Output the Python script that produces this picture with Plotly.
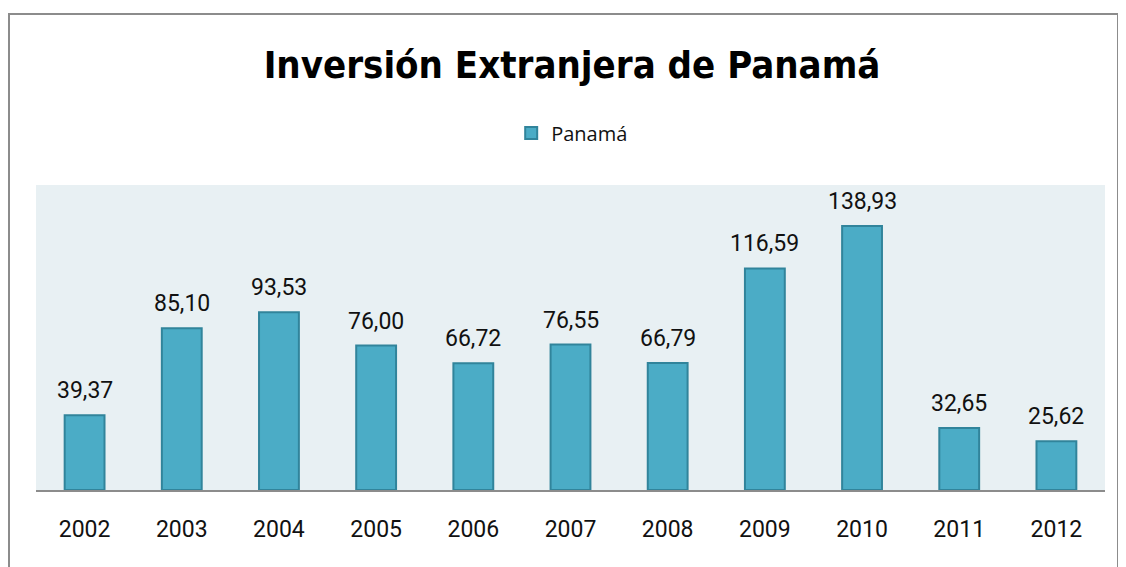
import plotly.graph_objects as go

years = ["2002", "2003", "2004", "2005", "2006", "2007", "2008", "2009", "2010", "2011", "2012"]
inversion = [39.37, 85.10, 93.53, 76.00, 66.72, 76.55, 66.79, 116.59, 138.93, 32.65, 25.62]

# page is shifted 8px by the body margin, so work in figure coords
W, H = 1126, 567
L, R, T, B = 28, 29, 177, 85
pw, ph = W - L - R, H - T - B

fig = go.Figure(go.Bar(
    x=years,
    y=inversion,
    name="Panamá",
    marker=dict(color="#4BACC6", line=dict(color="#31849B", width=2)),
    width=0.41,
    showlegend=True,
))

# value labels (category index as x, numeric-looking names get misread)
for i, v in enumerate(inversion):
    fig.add_annotation(x=i, y=v, text=f"{v:.2f}".replace(".", ","), showarrow=False,
                       yanchor="bottom", yshift=9,
                       font=dict(family="Roboto", size=23, color="#111111"))

# gray frame around the whole chart
fig.add_shape(type="rect", xref="paper", yref="paper",
              x0=(1 - L) / pw, x1=(1110 - L) / pw,
              y0=(H - B - 600) / ph, y1=(H - B - 6) / ph,
              line=dict(color="#8c8c8c", width=2), layer="below")

fig.update_layout(
    width=W, height=H,
    margin=dict(l=L, r=R, t=T, b=B, autoexpand=False),
    paper_bgcolor="white",
    plot_bgcolor="#E8F0F3",
    title=dict(text="<b>Inversión Extranjera de Panamá</b>", x=564 / W,
               xanchor="center", y=1 - 57 / H, yanchor="middle",
               font=dict(family="Liberation Sans Narrow, DejaVu Sans Condensed, Roboto", size=38,
                         color="black")),
    legend=dict(orientation="h", x=0.51 - 9 / pw, xanchor="center", y=1 + (T - 125) / ph,
                yanchor="middle", font=dict(family="Open Sans", size=20, color="#111111")),
    xaxis=dict(type="category", range=[-0.5, len(years) - 0.5], showline=True,
               linecolor="#8c8c8c", linewidth=2, ticks="", ticklabelstandoff=17,
               tickfont=dict(family="Roboto", size=23, color="#111111")),
    yaxis=dict(range=[0, 160.5], visible=False, showgrid=False, zeroline=False),
)

fig.write_html("out.html")
